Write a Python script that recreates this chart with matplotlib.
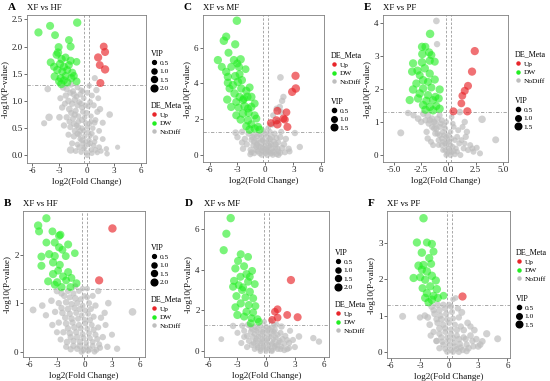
import matplotlib
matplotlib.use("Agg")
import matplotlib.pyplot as plt
import numpy as np
from matplotlib.lines import Line2D

plt.rcParams['font.family'] = ['Liberation Serif', 'DejaVu Serif']

# ---------------- Panel A: XF vs HF ----------------
A_up_x = [1.91, 2.06, 1.29, 1.47, 2.06, 1.54]
A_up_y = [2.00, 1.90, 1.80, 1.66, 1.58, 1.33]
A_up_vip = [1.7, 1.8, 1.9, 1.7, 2.0, 1.8]
A_dw_x = [-5.33, -4.04, -3.49, -1.03, -3.09, -1.95, -1.76, -3.16, -3.31, -3.97, -2.76, -2.32, -1.76, -1.10,
          -3.60, -2.94, -2.50, -1.95, -3.24, -2.68, -2.13, -1.58, -3.53, -2.87, -2.32, -1.69, -1.10, -2.79,
          -2.13, -3.05, -2.50, -1.40]
A_dw_y = [2.26, 2.38, 2.21, 2.44, 1.99, 2.12, 2.00, 1.89, 1.85, 1.71, 1.77, 1.80, 1.74, 1.72,
          1.63, 1.68, 1.63, 1.66, 1.57, 1.54, 1.57, 1.52, 1.45, 1.42, 1.46, 1.42, 1.36, 1.31,
          1.34, 1.36, 1.38, 1.46]
A_dw_vip = [1.9, 1.8, 1.7, 2.0, 1.8, 1.7, 1.8, 2.0, 1.9, 1.8, 1.9, 1.7, 1.8, 1.6,
            1.8, 1.9, 1.8, 1.7, 1.9, 1.8, 1.7, 1.8, 1.9, 1.8, 1.7, 1.9, 1.7, 1.9,
            1.8, 1.7, 1.8, 1.7]
A_nd_x = [-4.15, -4.7, -4.3, -1.76, 3.45, 2.57, 2.28, 0.92, 1.1, 1.3, -2.6, -2.2, -1.5, -1.0, -0.6, -2.9, -2.0,
          -1.3, -0.8, -0.3, -2.7, -1.9, -1.2, -0.5, 0.2, 0.8, 1.5, -3.0, -2.2, -1.5, -0.9, -0.2, 0.5, 1.0, 1.8,
          -2.5, -1.8, -1.1, -0.5, 0.1, 0.7, 1.4, -2.0, -1.4, -0.8, -0.2, 0.4, 1.0, 1.8, -1.6, -1.0, -0.4, 0.2,
          0.8, 1.4, 2.2, -1.2, -0.6, 0.0, 0.6, 1.2, -0.3, 0.3, -0.7, 0.5, -1.3, -2.3, -1.7, 0.6, 0.3,
          -1.8, -1.4, -1.1, -0.7, -0.4, 0.1, -1.6, -1.0, -0.6, -0.1, 0.4, -1.7, -1.3, -0.9, -0.5, -0.1, 0.3,
          -1.4, -0.7, -0.3, 0.2, 0.6, -1.0, -0.5, -0.1, 0.4, 0.9, -0.8, -0.2, 0.5, 1.0, 1.6, -0.9, 0.0, -0.4,
          0.9, 1.2, -2.4, -1.9, 0.1]
A_nd_y = [0.70, 0.59, 1.22, 0.10, 0.15, 0.75, 0.03, 1.42, 1.20, 1.05, 1.25, 1.22, 1.18, 1.25, 1.20, 1.05, 1.00,
          1.02, 0.98, 1.05, 0.88, 0.85, 0.82, 0.88, 0.90, 0.92, 0.85, 0.70, 0.70, 0.68, 0.72, 0.70, 0.72, 0.65, 0.60,
          0.55, 0.52, 0.55, 0.50, 0.52, 0.50, 0.45, 0.38, 0.35, 0.38, 0.35, 0.36, 0.32, 0.30, 0.22, 0.20, 0.22, 0.20,
          0.18, 0.15, 0.12, 0.08, 0.06, 0.05, 0.04, 0.05, 0.12, 0.28, 0.30, 0.62, 0.45, 1.10, 1.30, 1.10, 1.28,
          1.15, 1.12, 1.08, 1.12, 1.18, 1.15, 0.95, 0.92, 0.95, 0.92, 0.98, 0.78, 0.75, 0.62, 0.65, 0.60, 0.58,
          0.58, 0.45, 0.45, 0.42, 0.40, 0.40, 0.28, 0.25, 0.22, 0.25, 0.15, 0.15, 0.10, 0.10, 0.08, 0.52, 0.78, 0.80,
          0.60, 0.80, 0.95, 0.62, 0.00]
A_nd_vip = [1.5, 0.9, 1.1, 1.5, 0.6, 1.1, 0.7, 0.9, 1.0, 0.8, 1.1, 1.0, 0.9, 0.8, 0.7, 0.9, 1.1,
            1.0, 0.8, 0.7, 1.0, 1.2, 0.9, 0.8, 0.7, 0.9, 1.0, 1.1, 1.0, 0.9, 0.8, 0.7, 0.7, 0.8, 0.9,
            1.0, 0.9, 0.8, 0.7, 0.6, 0.7, 0.8, 0.9, 1.0, 0.8, 0.7, 0.6, 0.7, 0.8, 0.9, 0.8, 0.7, 0.6,
            0.7, 0.8, 0.7, 0.8, 0.7, 0.6, 0.7, 0.6, 0.6, 0.6, 0.7, 0.6, 0.9, 1.0, 0.9, 0.8, 0.7,
            0.9, 1.0, 0.8, 0.9, 0.7, 0.8, 1.0, 0.9, 0.8, 0.7, 0.8, 0.9, 1.0, 0.8, 0.9, 0.7, 0.8,
            0.9, 0.8, 0.7, 0.8, 0.7, 0.9, 0.8, 0.7, 0.8, 0.7, 0.9, 0.8, 0.7, 0.8, 0.7, 0.8, 0.9, 0.8,
            0.8, 0.9, 0.9, 0.8, 0.7]

# ---------------- Panel B: XF vs HF ----------------
B_up_x = [3.05, 1.60]
B_up_y = [2.54, 1.47]
B_up_vip = [2.0, 1.9]
B_dw_x = [-4.15, -5.05, -4.95, -3.49, -2.62, -2.76, -4.15, -3.24, -2.76, -1.78, -2.40, -3.85, -1.05, -4.69,
          -3.24, -2.04, -4.69, -3.42, -2.69, -2.87, -1.78, -3.42, -2.33, -1.42, -3.96, -2.98, -2.00, -0.87,
          -2.50, -1.53, -3.24]
B_dw_y = [2.75, 2.60, 2.48, 2.48, 2.41, 2.39, 2.25, 2.25, 2.15, 2.21, 2.10, 2.01, 2.03, 1.96,
          1.97, 1.97, 1.77, 1.84, 1.79, 1.67, 1.64, 1.60, 1.55, 1.52, 1.45, 1.43, 1.47, 1.41,
          1.33, 1.33, 1.38]
B_dw_vip = [1.9, 2.0, 1.8, 1.7, 1.8, 1.9, 1.7, 1.8, 1.9, 1.8, 1.7, 1.9, 1.6, 1.8,
            1.9, 1.7, 1.8, 1.9, 1.8, 1.7, 1.8, 1.9, 1.8, 1.7, 1.8, 1.9, 1.7, 1.8,
            1.9, 1.8, 1.7]
B_nd_x = [-5.6, 5.24, 3.56, -4.6, -4.2, 2.6, 1.5, -3.0, -2.5, -1.8, -1.2, -0.6, 0.0, -3.6, -2.8, -2.0, -1.4,
          -0.8, -0.2, 0.5, 1.2, -3.2, -2.4, -1.6, -0.9, -0.3, 0.4, 1.0, 1.8, -2.8, -2.0, -1.3, -0.6, 0.1, 0.8,
          1.5, -2.3, -1.6, -0.9, -0.2, 0.5, 1.2, 2.0, -1.9, -1.2, -0.5, 0.2, 0.9, 1.6, 2.5, -1.5, -0.8, -0.1,
          0.6, 1.3, -2.6, -3.5, 2.3, -1.0, 0.3,
          -2.2, -1.6, -1.0, -0.4, 0.3, 0.9, -2.5, -1.8, -1.1, -0.5, 0.1, 0.7, -2.1, -1.4, -0.7, 0.0, 0.6,
          -1.8, -1.1, -0.4, 0.3, 1.0, -1.5, -0.8, -0.1, 0.6, 1.4, -1.2, -0.5, 0.2, 0.9, 1.7, -0.3, 0.4, 1.1,
          -2.0, 2.2, -3.0, 3.0, -0.2]
B_nd_y = [0.86, 0.82, 0.06, 0.95, 0.75, 1.00, 1.25, 1.25, 1.20, 1.25, 1.20, 1.25, 1.15, 1.05, 1.00, 1.02, 0.98,
          1.00, 0.95, 1.00, 0.95, 0.82, 0.80, 0.78, 0.80, 0.75, 0.78, 0.72, 0.70, 0.60, 0.58, 0.60, 0.55, 0.58, 0.55,
          0.50, 0.40, 0.38, 0.40, 0.36, 0.38, 0.35, 0.30, 0.20, 0.22, 0.20, 0.18, 0.20, 0.15, 0.10, 0.05, 0.06, 0.04,
          0.05, 0.04, 0.25, 0.55, 0.55, 1.35, 1.30,
          1.15, 1.12, 1.10, 1.08, 1.12, 1.15, 0.90, 0.88, 0.90, 0.88, 0.85, 0.88, 0.70, 0.68, 0.68, 0.66, 0.65,
          0.48, 0.50, 0.48, 0.47, 0.45, 0.30, 0.30, 0.28, 0.28, 0.26, 0.12, 0.12, 0.10, 0.12, 0.08, 0.00, 0.02, 0.00,
          0.10, 0.80, 0.40, 0.35, 1.30]
B_nd_vip = [1.2, 1.6, 1.0, 1.1, 1.0, 1.1, 1.0, 1.1, 1.0, 0.9, 0.9, 0.8, 0.7, 1.1, 1.0, 1.1, 1.0,
            0.9, 0.8, 0.9, 1.0, 1.0, 1.1, 1.0, 0.9, 0.8, 0.8, 0.9, 1.0, 1.0, 1.1, 1.0, 0.9, 0.8, 0.8,
            0.9, 1.0, 1.1, 1.0, 0.9, 0.8, 0.9, 1.0, 1.1, 1.0, 0.9, 0.8, 0.8, 0.9, 1.0, 1.0, 1.0, 0.9,
            0.8, 0.9, 0.9, 1.0, 0.9, 0.8, 0.7,
            1.0, 0.9, 1.1, 0.9, 0.8, 0.9, 1.0, 1.1, 0.9, 1.0, 0.8, 0.9, 1.0, 1.1, 0.9, 0.8, 0.9,
            1.0, 1.1, 0.9, 0.8, 0.9, 1.0, 1.1, 0.9, 0.8, 0.9, 1.0, 1.1, 0.9, 0.8, 0.9, 1.0, 0.9, 0.8,
            0.9, 1.0, 0.9, 0.9, 0.7]

# ---------------- Panel C: XF vs MF ----------------
C_up_x = [3.24, 3.27, 2.88, 1.29, 2.27, 1.94, 1.19, 0.58, 1.29, 2.37, 2.09]
C_up_y = [4.43, 3.72, 3.53, 2.47, 2.39, 2.04, 1.94, 1.79, 1.72, 1.57, 1.98]
C_up_vip = [1.5, 1.6, 1.5, 1.4, 1.3, 1.4, 1.5, 1.3, 1.6, 1.4, 1.4]
C_dw_x = [-3.06, -4.21, -4.46, -3.24, -3.96, -5.10, -4.68, -3.38, -2.66, -3.02, -2.84, -2.12, -3.67, -4.03,
          -3.24, -2.77, -4.03, -2.95, -2.52, -3.85, -2.59, -1.69, -4.10, -3.31, -2.05, -3.13, -2.41, -1.51,
          -3.67, -2.88, -2.23, -1.51, -3.13, -2.41, -1.80, -1.15, -2.66, -1.87, -0.97, -2.05, -1.51, -0.79,
          -1.69, -1.15, -0.61, -2.30, -3.49, -1.15, -2.77, -1.94, -4.21, -1.87]
C_dw_y = [7.51, 6.62, 6.39, 6.19, 5.72, 5.31, 4.93, 5.31, 5.35, 5.12, 4.93, 4.80, 4.93, 4.37,
          4.41, 4.52, 4.04, 4.09, 4.19, 3.72, 3.72, 3.78, 3.10, 3.44, 3.59, 2.97, 3.07, 3.25,
          2.69, 2.65, 2.73, 2.69, 2.22, 2.32, 2.36, 2.22, 1.98, 1.94, 2.04, 1.61, 1.72, 1.57,
          1.42, 1.48, 1.42, 3.16, 3.91, 2.88, 3.25, 3.25, 4.65, 2.60]
C_dw_vip = [1.6, 1.5, 1.6, 1.5, 1.4, 1.5, 1.4, 1.5, 1.6, 1.4, 1.5, 1.3, 1.4, 1.5,
            1.6, 1.4, 1.5, 1.6, 1.5, 1.4, 1.5, 1.4, 1.5, 1.6, 1.5, 1.4, 1.5, 1.6,
            1.5, 1.4, 1.6, 1.5, 1.4, 1.6, 1.5, 1.4, 1.5, 1.6, 1.4, 1.5, 1.4, 1.5,
            1.6, 1.5, 1.4, 1.5, 1.6, 1.4, 1.5, 1.6, 1.5, 1.4]
C_nd_x = [1.62, 1.94, 1.80, 1.55, 0.83, 1.20, 1.70, 3.17, 3.70, -1.62, -3.20, -2.50, -1.80, -1.20, -0.60, 0.00,
          0.50, 1.00, 1.60, 2.20, -2.20, -1.50, -0.90, -0.30, 0.30, 0.90, 1.40, -2.00, -1.30, -0.70, -0.10,
          0.50, 1.10, 1.80, 2.50, -1.60, -1.00, -0.40, 0.20, 0.80, 1.40, 2.10, -1.20, -0.60, 0.00, 0.60, 1.20,
          -0.30, 0.40, -2.50, -3.00, 0.70, 1.30, 0.30, -0.20,
          -1.4, -0.9, -0.4, 0.2, 0.7, 1.2, -1.2, -0.6, 0.0, 0.6, 1.1, -1.0, -0.5, 0.1, 0.7, 1.3, -0.8, -0.2,
          0.3, 0.9, 1.6, -0.4, 0.2, 0.8, 1.4, -1.5, 2.0, 2.6, -2.4, 1.7, -0.9, 0.4, 0.0, -0.3, 0.5]
C_nd_y = [4.34, 3.25, 3.03, 2.69, 2.22, 2.60, 2.40, 1.23, 0.45, 0.04, 1.25, 1.30, 1.20, 1.10, 1.15, 1.20,
          1.30, 1.20, 1.00, 0.90, 0.90, 0.85, 0.80, 0.85, 0.80, 0.75, 0.70, 0.60, 0.55, 0.50, 0.55,
          0.50, 0.45, 0.40, 0.35, 0.30, 0.28, 0.25, 0.30, 0.22, 0.20, 0.15, 0.10, 0.08, 0.10, 0.08, 0.05,
          0.40, 0.15, 0.70, 1.00, 1.70, 1.90, 1.50, 1.35,
          1.00, 1.05, 1.00, 1.05, 1.00, 0.95, 0.75, 0.70, 0.72, 0.62, 0.60, 0.45, 0.42, 0.40, 0.35, 0.35, 0.20, 0.18,
          0.22, 0.15, 0.12, 0.00, 0.00, 0.00, 0.00, 0.15, 0.60, 0.20, 0.35, 1.30, 0.60, 0.55, 0.30, 0.80, 0.90]
C_nd_vip = [0.9, 0.8, 0.8, 0.8, 0.7, 0.7, 0.8, 0.8, 0.8, 0.7, 0.9, 0.8, 0.8, 0.8, 0.7, 0.7,
            0.6, 0.7, 0.8, 0.8, 0.8, 0.7, 0.7, 0.6, 0.6, 0.7, 0.7, 0.8, 0.7, 0.7, 0.6,
            0.6, 0.7, 0.8, 0.8, 0.7, 0.7, 0.6, 0.6, 0.6, 0.7, 0.7, 0.7, 0.6, 0.6, 0.6, 0.7,
            0.6, 0.5, 0.8, 0.8, 0.7, 0.7, 0.6, 0.6,
            0.8, 0.7, 0.8, 0.7, 0.8, 0.7, 0.8, 0.7, 0.6, 0.7, 0.8, 0.7, 0.8, 0.6, 0.7, 0.8, 0.7, 0.6,
            0.7, 0.8, 0.7, 0.6, 0.7, 0.6, 0.7, 0.7, 0.8, 0.7, 0.8, 0.7, 0.7, 0.6, 0.7, 0.6, 0.7]

# ---------------- Panel D: XF vs MF ----------------
D_up_x = [2.59, 1.19, 0.91, 2.20, 3.29, 1.19, 0.63]
D_up_y = [3.50, 2.06, 1.94, 1.78, 1.67, 1.65, 1.54]
D_up_vip = [1.9, 1.7, 1.6, 1.7, 1.8, 1.7, 1.6]
D_dw_x = [-3.71, -4.16, -4.44, -2.66, -1.89, -2.94, -3.22, -2.31, -1.47, -2.69, -2.06, -3.36, -2.87, -1.89,
          -1.19, -2.52, -1.71, -3.11, -2.17, -1.36, -2.66, -1.82, -1.12, -3.22, -3.01, -2.06, -1.36, -2.31,
          -1.54, -0.91, -1.61, -0.77, -2.41, -1.71, -3.46]
D_dw_y = [6.55, 5.78, 4.97, 4.77, 4.64, 4.44, 4.07, 4.18, 3.95, 3.66, 3.79, 3.46, 3.25, 3.42,
          3.30, 3.01, 2.92, 2.71, 2.65, 2.60, 2.35, 2.27, 2.22, 2.16, 1.78, 1.94, 1.90, 1.70,
          1.62, 1.57, 1.37, 1.45, 3.14, 3.66, 3.17]
D_dw_vip = [2.0, 1.9, 1.9, 1.8, 1.7, 1.8, 1.9, 1.8, 1.7, 1.8, 1.9, 1.8, 1.7, 1.8,
            1.7, 1.8, 1.9, 1.8, 1.7, 1.8, 1.9, 1.8, 1.7, 1.8, 1.9, 1.8, 1.7, 1.8,
            1.7, 1.8, 1.7, 1.6, 1.8, 1.7, 1.8]
D_nd_x = [-3.46, -4.69, 4.93, 5.52, 3.43, 1.61, 2.50, 3.00, 2.20, -2.50, -1.90, -1.20, -0.60, 0.00, 0.60, 1.10,
          -2.30, -1.60, -1.00, -0.40, 0.20, 0.80, 1.50, 2.00, -2.00, -1.40, -0.80, -0.20, 0.40, 1.00, 1.70,
          -1.80, -1.10, -0.50, 0.10, 0.70, 1.30, 2.40, -1.50, -0.90, -0.30, 0.30, 0.90, 1.60, -1.20, -0.60,
          0.00, 0.60, 1.20, -2.60, -3.00, 0.50, -0.20, 1.90, 2.80,
          -1.5, -0.9, -0.3, 0.3, 0.9, -1.2, -0.6, 0.0, 0.6, 1.2, -1.0, -0.4, 0.2, 0.8, 1.4, -1.3, -0.6, 0.0,
          0.6, 1.1, -0.9, -0.3, 0.3, 0.9, 1.5, -0.6, 0.0, 0.6, 1.9, 2.4, -2.0, -2.3, 2.2, -1.7, 0.8]
D_nd_y = [1.24, 0.59, 0.64, 0.47, 0.72, 1.21, 1.00, 0.20, 0.10, 1.25, 1.30, 1.20, 1.25, 1.20, 1.15, 1.30,
          1.00, 0.95, 1.00, 0.95, 1.00, 0.95, 0.90, 0.75, 0.75, 0.70, 0.72, 0.70, 0.72, 0.68, 0.60,
          0.50, 0.50, 0.48, 0.50, 0.45, 0.42, 0.40, 0.30, 0.28, 0.25, 0.28, 0.25, 0.22, 0.10, 0.08,
          0.10, 0.05, 0.10, 0.40, 0.90, 1.50, 1.45, 0.35, 0.55,
          1.10, 1.10, 1.08, 1.10, 1.05, 0.85, 0.85, 0.88, 0.85, 0.80, 0.60, 0.60, 0.62, 0.58, 0.50, 0.40, 0.38, 0.40,
          0.35, 0.30, 0.18, 0.18, 0.15, 0.18, 0.10, 0.00, 0.00, 0.00, 0.05, 0.15, 0.20, 0.70, 0.55, 1.25, 1.30]
D_nd_vip = [1.0, 0.8, 1.0, 1.0, 1.1, 1.0, 0.9, 0.9, 0.9, 0.9, 0.9, 0.9, 0.8, 0.8, 0.8, 0.8,
            0.9, 0.9, 0.8, 0.8, 0.7, 0.8, 0.9, 0.9, 0.9, 0.9, 0.8, 0.7, 0.7, 0.8, 0.9,
            0.9, 0.8, 0.8, 0.7, 0.7, 0.8, 0.9, 0.9, 0.8, 0.7, 0.7, 0.8, 0.8, 0.8, 0.7,
            0.7, 0.7, 0.8, 0.9, 0.9, 0.7, 0.7, 0.8, 0.9,
            0.9, 0.8, 0.9, 0.8, 0.9, 0.8, 0.9, 0.8, 0.9, 0.8, 0.9, 0.8, 0.7, 0.8, 0.9, 0.8, 0.9, 0.8,
            0.7, 0.8, 0.9, 0.8, 0.7, 0.8, 0.9, 0.8, 0.7, 0.8, 0.9, 0.8, 0.9, 0.9, 0.8, 0.8, 0.7]

# ---------------- Panel E: XF vs PF ----------------
E_up_x = [2.42, 2.17, 1.80, 1.50, 1.28, 1.19, 0.46, 1.74]
E_up_y = [3.14, 2.52, 2.09, 1.94, 1.79, 1.56, 1.32, 1.32]
E_up_vip = [1.5, 1.5, 1.4, 1.4, 1.3, 1.3, 1.4, 1.5]
E_dw_x = [-1.68, -2.42, -2.11, -1.77, -2.39, -1.56, -3.24, -2.42, -1.71, -1.25, -2.84, -2.17, -3.33, -2.63,
          -1.71, -2.32, -2.94, -1.87, -1.25, -3.24, -2.32, -1.56, -0.80, -2.63, -1.87, -1.19, -3.55, -2.78,
          -2.02, -1.41, -0.89, -2.32, -1.71, -1.10, -2.11, -1.41, -0.80]
E_dw_y = [3.66, 3.27, 3.27, 3.10, 3.05, 3.02, 2.77, 2.80, 2.85, 2.82, 2.55, 2.62, 2.52, 2.41,
          2.46, 2.26, 2.16, 2.21, 2.28, 1.98, 2.01, 2.04, 1.98, 1.86, 1.81, 1.76, 1.66, 1.71,
          1.64, 1.66, 1.71, 1.51, 1.45, 1.48, 1.37, 1.35, 1.40]
E_dw_vip = [1.6, 1.5, 1.4, 1.5, 1.6, 1.4, 1.5, 1.6, 1.5, 1.4, 1.5, 1.6, 1.5, 1.4,
            1.5, 1.6, 1.5, 1.4, 1.5, 1.6, 1.5, 1.4, 1.5, 1.6, 1.5, 1.4, 1.5, 1.6,
            1.5, 1.4, 1.5, 1.6, 1.5, 1.4, 1.5, 1.6, 1.5]
E_nd_x = [-1.10, -1.04, -4.37, 3.09, 4.34, -3.70, -2.78, 1.04, 1.59, -3.20, -2.30, -1.90, -1.50, -1.80, -1.20,
          -1.30, -0.80, -1.00, -0.50, -0.60, -0.20, -0.30, 0.10, 0.00, 0.40, 0.30, 0.80, -0.50, -0.10, 0.60,
          1.00, 1.40, 1.80, 2.30, 2.90, -1.60, -2.00, 0.50, 0.90, 1.30, 1.70, 2.20, 2.60, -0.90, 0.20, -0.60,
          -0.20, 0.30, -2.50, 0.70, -0.40,
          -2.1, -1.7, -1.3, -1.5, -1.1, -0.7, -1.2, -0.8, -0.4, -0.9, -0.5, -0.1, -0.6, -0.2, 0.2, -0.3, 0.1,
          0.5, -0.2, 0.2, 0.6, 1.1, -1.0, -0.8, -0.3, 0.0, 0.3, 0.8, 1.2, 1.5, 2.0, -1.9, -1.4, 0.4, 1.5]
E_nd_y = [4.05, 3.35, 0.67, 1.08, 0.46, 1.27, 1.10, 1.30, 0.55, 1.20, 1.25, 1.20, 1.10, 0.95, 0.95,
          0.80, 0.85, 0.65, 0.70, 0.50, 0.55, 0.35, 0.40, 0.20, 0.25, 0.08, 0.10, 0.15, 0.05, 0.45,
          0.35, 0.20, 0.15, 0.10, 0.05, 0.40, 0.70, 0.85, 0.75, 0.85, 0.70, 0.20, 0.22, 0.30, 0.70, 1.05,
          1.00, 1.15, 1.00, 0.20, 0.90,
          1.05, 1.05, 1.00, 0.85, 0.80, 0.95, 0.65, 0.60, 0.60, 0.45, 0.40, 0.45, 0.30, 0.30, 0.30, 0.15, 0.12,
          0.12, 0.00, 0.00, 0.02, 0.00, 1.10, 1.20, 0.80, 0.60, 0.50, 0.55, 0.45, 0.35, 0.30, 0.50, 0.30, 0.95, 1.00]
E_nd_vip = [0.9, 0.8, 1.0, 1.2, 1.0, 0.8, 0.9, 0.9, 0.8, 0.8, 0.9, 0.9, 0.9, 0.8, 0.8,
            0.8, 0.7, 0.7, 0.7, 0.7, 0.6, 0.6, 0.6, 0.6, 0.6, 0.6, 0.6, 0.6, 0.6, 0.6,
            0.7, 0.7, 0.7, 0.7, 0.7, 0.7, 0.8, 0.6, 0.7, 0.7, 0.8, 0.7, 0.7, 0.6, 0.6, 0.7,
            0.6, 0.6, 0.8, 0.6, 0.6,
            0.8, 0.9, 0.8, 0.7, 0.8, 0.7, 0.8, 0.7, 0.6, 0.7, 0.6, 0.7, 0.7, 0.6, 0.6, 0.6, 0.7,
            0.6, 0.6, 0.7, 0.6, 0.7, 0.8, 0.7, 0.7, 0.6, 0.6, 0.7, 0.7, 0.6, 0.7, 0.8, 0.7, 0.6, 0.8]

# ---------------- Panel F: XF vs PF ----------------
F_up_x = [1.30]
F_up_y = [1.55]
F_up_vip = [1.5]
F_dw_x = [-2.64, -3.32, -2.29, -1.78, -2.81, -1.61, -2.05, -3.15, -2.64, -1.85, -2.81, -2.29, -3.66, -2.98,
          -2.47, -1.78, -1.37, -2.74, -1.95, -1.27, -2.29, -1.61, -2.47, -1.78, -1.16, -0.58, -2.12]
F_dw_y = [3.69, 3.02, 3.02, 2.98, 2.74, 2.77, 2.59, 2.38, 2.40, 2.43, 2.27, 2.22, 2.04, 2.06,
          1.99, 2.10, 1.97, 1.76, 1.81, 1.73, 1.62, 1.55, 1.49, 1.44, 1.49, 1.55, 1.37]
F_dw_vip = [1.6, 1.5, 1.4, 1.5, 1.6, 1.4, 1.5, 1.6, 1.5, 1.4, 1.5, 1.6, 1.5, 1.4,
            1.5, 1.6, 1.5, 1.4, 1.5, 1.6, 1.5, 1.4, 1.5, 1.6, 1.5, 1.3, 1.5]
F_nd_x = [-4.79, 3.87, 5.00, 3.42, 1.30, 0.68, 0.40, -2.50, -3.00, -1.80, -1.20, -0.60, -1.50, -0.90, -0.30,
          0.30, 0.90, -1.20, -0.60, 0.00, 0.60, 1.20, 1.90, -1.60, -1.00, -0.40, 0.20, 0.80, 1.50, 2.20,
          2.80, -1.30, -0.70, -0.10, 0.50, 1.10, 1.80, 2.50, -1.00, -0.40, 0.20, 0.80, 1.40, 3.00, -2.00, 2.60,
          -1.6, -1.0, -0.4, 0.2, -1.3, -0.8, -0.2, 0.4, 1.0, -1.0, -0.4, 0.2, 0.8, 1.5, -0.8, -0.2, 0.4, 1.0,
          1.7, -0.6, 0.0, 0.6, 1.2, 2.0, -0.2, 0.4, 1.0, 1.8, 2.4, 3.2, -1.9, -2.2, 2.2, 0.0, -1.3]
F_nd_y = [0.98, 0.50, 0.36, 0.29, 1.09, 1.49, 1.45, 1.00, 0.95, 1.25, 1.30, 1.30, 1.05, 1.00, 1.05,
          1.10, 1.20, 0.80, 0.75, 0.80, 0.75, 0.70, 0.80, 0.55, 0.50, 0.55, 0.50, 0.45, 0.40, 0.45,
          0.35, 0.30, 0.28, 0.30, 0.25, 0.22, 0.20, 0.15, 0.10, 0.08, 0.05, 0.08, 0.05, 0.15, 0.75, 0.60,
          1.15, 1.15, 1.20, 1.25, 0.90, 0.90, 0.90, 0.92, 0.95, 0.65, 0.65, 0.62, 0.60, 0.60, 0.40, 0.40, 0.38, 0.35,
          0.35, 0.20, 0.18, 0.15, 0.12, 0.10, 0.00, 0.00, 0.00, 0.02, 0.30, 0.20, 0.45, 0.95, 0.70, 1.30, 0.30]
F_nd_vip = [1.0, 1.1, 1.0, 0.9, 1.0, 0.6, 0.6, 0.9, 0.8, 0.9, 0.9, 0.8, 0.9, 0.8, 0.8,
            0.7, 0.8, 0.8, 0.8, 0.7, 0.7, 0.8, 0.9, 0.8, 0.8, 0.7, 0.7, 0.7, 0.8, 0.9,
            0.9, 0.8, 0.8, 0.7, 0.7, 0.8, 0.8, 0.8, 0.8, 0.7, 0.7, 0.7, 0.8, 0.9, 0.9, 0.9,
            0.8, 0.9, 0.8, 0.7, 0.8, 0.9, 0.8, 0.7, 0.8, 0.9, 0.8, 0.7, 0.8, 0.9, 0.8, 0.7, 0.8, 0.9,
            0.8, 0.7, 0.8, 0.7, 0.8, 0.9, 0.7, 0.7, 0.8, 0.8, 0.8, 0.9, 0.8, 0.9, 0.8, 0.7, 0.8]

panels = [
    dict(letter="A", title="XF vs HF", rect=(27, 15, 146, 163), xlim=(-6.6, 6.6), ylim=(-0.14, 2.58),
         xt=[-6, -3, 0, 3, 6], yt=[0.0, 0.5, 1.0, 1.5, 2.0, 2.5], yfmt="{:.1f}", xfmt="{:g}",
         vipleg=[0.5, 1.0, 1.5, 2.0], vmax=2.05, vipfirst=True, lpos=(147, 46),
         up=(A_up_x, A_up_y, A_up_vip), dw=(A_dw_x, A_dw_y, A_dw_vip), nd=(A_nd_x, A_nd_y, A_nd_vip)),
    dict(letter="B", title="XF vs HF", rect=(23, 211, 145, 357), xlim=(-6.7, 6.6), ylim=(-0.11, 2.9),
         xt=[-6, -3, 0, 3, 6], yt=[0, 1, 2], yfmt="{:d}", xfmt="{:g}",
         vipleg=[0.5, 1.0, 1.5, 2.0], vmax=2.05, vipfirst=True, lpos=(147, 240),
         up=(B_up_x, B_up_y, B_up_vip), dw=(B_dw_x, B_dw_y, B_dw_vip), nd=(B_nd_x, B_nd_y, B_nd_vip)),
    dict(letter="C", title="XF vs MF", rect=(203, 15, 324, 162), xlim=(-6.7, 6.3), ylim=(-0.39, 7.83),
         xt=[-6, -3, 0, 3, 6], yt=[0, 2, 4, 6], yfmt="{:d}", xfmt="{:g}",
         vipleg=[0.5, 1.0, 1.5], vmax=1.6, vipfirst=False, lpos=(327, 48),
         up=(C_up_x, C_up_y, C_up_vip), dw=(C_dw_x, C_dw_y, C_dw_vip), nd=(C_nd_x, C_nd_y, C_nd_vip)),
    dict(letter="D", title="XF vs MF", rect=(204, 211, 329, 357), xlim=(-6.5, 6.57), ylim=(-0.29, 6.9),
         xt=[-6, -3, 0, 3, 6], yt=[0, 2, 4, 6], yfmt="{:d}", xfmt="{:g}",
         vipleg=[0.5, 1.0, 1.5, 2.0], vmax=2.05, vipfirst=True, lpos=(331, 245),
         up=(D_up_x, D_up_y, D_up_vip), dw=(D_dw_x, D_dw_y, D_dw_vip), nd=(D_nd_x, D_nd_y, D_nd_vip)),
    dict(letter="E", title="XF vs PF", rect=(383, 15, 508, 162), xlim=(-6.0, 5.47), ylim=(-0.21, 4.23),
         xt=[-5.0, -2.5, 0.0, 2.5, 5.0], yt=[0, 1, 2, 3, 4], yfmt="{:d}", xfmt="{:.1f}",
         vipleg=[0.5, 1.0, 1.5], vmax=1.6, vipfirst=False, lpos=(511, 47),
         up=(E_up_x, E_up_y, E_up_vip), dw=(E_dw_x, E_dw_y, E_dw_vip), nd=(E_nd_x, E_nd_y, E_nd_vip)),
    dict(letter="F", title="XF vs PF", rect=(387, 211, 510, 358), xlim=(-6.4, 6.27), ylim=(-0.17, 3.89),
         xt=[-6, -3, 0, 3, 6], yt=[0, 1, 2, 3], yfmt="{:d}", xfmt="{:g}",
         vipleg=[0.5, 1.0, 1.5], vmax=1.6, vipfirst=False, lpos=(512, 245),
         up=(F_up_x, F_up_y, F_up_vip), dw=(F_dw_x, F_dw_y, F_dw_vip), nd=(F_nd_x, F_nd_y, F_nd_vip)),
]

W, H = 550, 381
fig = plt.figure(figsize=(W / 100, H / 100), dpi=100)

C_UP = "#E8252A"
C_DW = "#22EE22"
C_ND = "#BEBEBE"
VMIN = 0.2
FRAME = "#7F7F7F"


def diam(v, vmax):
    t = np.clip((np.asarray(v, dtype=float) - VMIN) / (vmax - VMIN), 0, 1)
    return 1.7 + 4.4 * np.sqrt(t)


for p in panels:
    l, t, r, b = p["rect"]
    ax = fig.add_axes([l / W, 1 - b / H, (r - l) / W, (b - t) / H])
    for key, col, alpha in (("nd", C_ND, 0.7), ("dw", C_DW, 0.6), ("up", C_UP, 0.65)):
        xs, ys, vs = p[key]
        ax.scatter(xs, ys, s=diam(vs, p["vmax"]) ** 2, c=col, alpha=alpha, linewidths=0, zorder=2)
    ax.axhline(1.30103, color="#9a9a9a", lw=0.6, ls=(0, (4, 2, 1, 2)), zorder=1)
    for xv in (-0.263, 0.263):
        ax.axvline(xv, color="#9a9a9a", lw=0.6, ls=(0, (3, 2)), zorder=1)
    ax.set_xlim(*p["xlim"])
    ax.set_ylim(*p["ylim"])
    ax.set_xticks(p["xt"])
    ax.set_xticklabels([p["xfmt"].format(v) for v in p["xt"]])
    ax.set_yticks(p["yt"])
    ax.set_yticklabels(["{:d}".format(int(v)) if p["yfmt"] == "{:d}" else p["yfmt"].format(v) for v in p["yt"]])
    ax.tick_params(labelsize=6.5, length=2, width=0.5, color="#333333", pad=1.2, labelcolor="#222222")
    for s in ax.spines.values():
        s.set_color(FRAME)
        s.set_linewidth(0.6)
    ax.set_xlabel("log2(Fold Change)", fontsize=6.6, labelpad=1.5, color="#111111")
    ax.set_ylabel("-log10(P-value)", fontsize=6.6, labelpad=1.5, color="#111111")
    ax.text(0.0, 1.02, p["title"], transform=ax.transAxes, fontsize=6.3, ha="left", va="bottom")
    fig.text((l - 19) / W, 1 - (t - 8) / H, p["letter"], fontsize=8, fontweight="bold", ha="left", va="center")

    vip_handles = [Line2D([], [], ls="", marker="o", color="black", markersize=float(diam(v, p["vmax"])) * 0.8,
                          label="{:.1f}".format(v)) for v in p["vipleg"]]
    de_handles = [Line2D([], [], ls="", marker="o", color=c, markersize=2.2, label=lab)
                  for c, lab in ((C_UP, "Up"), (C_DW, "DW"), (C_ND, "NoDiff"))]
    lx, ly = p["lpos"]
    kw = dict(frameon=False, fontsize=5.3, title_fontsize=5.8, handletextpad=0.2, borderpad=0,
              labelspacing=0.3, handlelength=1.0, alignment="left", loc="upper left",
              bbox_transform=fig.transFigure)
    n_vip = len(p["vipleg"])
    vip_h = 9 + n_vip * 8.5
    if p["vipfirst"]:
        first = ax.legend(handles=vip_handles, title="VIP", bbox_to_anchor=(lx / W, 1 - ly / H), **kw)
        ax.add_artist(first)
        ax.legend(handles=de_handles, title="DE_Meta", bbox_to_anchor=(lx / W, 1 - (ly + vip_h + 9) / H), **kw)
    else:
        first = ax.legend(handles=de_handles, title="DE_Meta", bbox_to_anchor=(lx / W, 1 - ly / H), **kw)
        ax.add_artist(first)
        ax.legend(handles=vip_handles, title="VIP", bbox_to_anchor=(lx / W, 1 - (ly + 46) / H), **kw)

fig.savefig("out.png", dpi=100)
